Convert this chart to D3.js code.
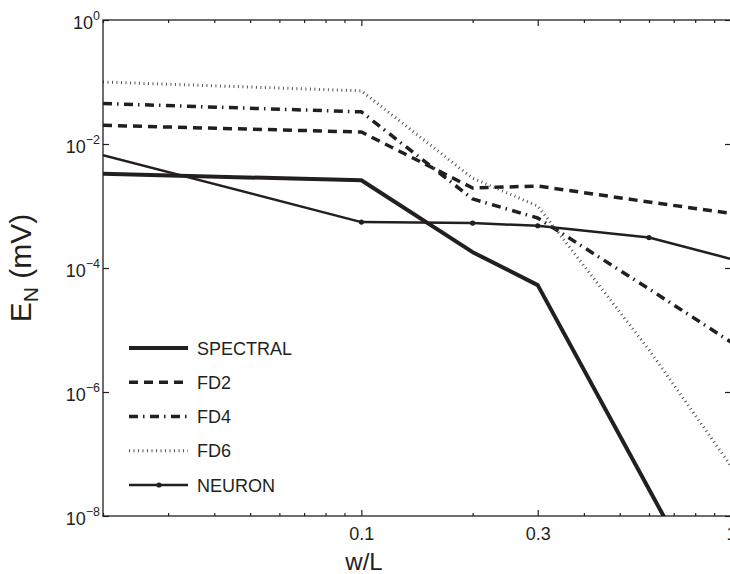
<!DOCTYPE html>
<html>
<head>
<meta charset="utf-8">
<script src="https://cdn.jsdelivr.net/npm/d3@7"></script>
<style>
body { margin: 0; background: #fff; }
.chart text { font-family: Arial, "Liberation Sans", Helvetica, sans-serif; fill: #231f20; }
</style>
</head>
<body>
<div class="chart"></div>
<script>
// w/L values shared by every series
var wL = [0.02, 0.1, 0.2, 0.3, 0.6, 1.0]
var spectral = [3.3e-3, 2.6e-3, 1.8e-4, 5.3e-5, 2.7e-8, 1.0e-10]
var fd2 = [2.0e-2, 1.56e-2, 1.95e-3, 2.1e-3, 1.16e-3, 7.6e-4]
var fd4 = [4.5e-2, 3.3e-2, 1.3e-3, 6.4e-4, 4.6e-5, 6.4e-6]
var fd6 = [1.0e-1, 7.2e-2, 2.8e-3, 1.0e-3, 4.8e-6, 6.4e-8]
var neuron = [6.6e-3, 5.5e-4, 5.3e-4, 4.8e-4, 3.1e-4, 1.4e-4]
var seriesNames = ['SPECTRAL', 'FD2', 'FD4', 'FD6', 'NEURON']
var xTickLabels = [0.1, 0.3, 1]
var xMinorTicks = [0.02, 0.03, 0.04, 0.05, 0.06, 0.07, 0.08, 0.09, 0.2, 0.4, 0.5, 0.6, 0.7, 0.8, 0.9]
var yTickExps = [0, -2, -4, -6, -8]

var margin = { top: 20, right: -1, bottom: 58, left: 103 }
var width = 730 - margin.left - margin.right
var height = 574 - margin.top - margin.bottom
var ink = '#231f20'

var svg = d3.select('.chart').append('svg')
    .attr('width', 730)
    .attr('height', 574)
    .style('display', 'block')
    .append('g')
    .attr('transform', 'translate(' + margin.left + ',' + margin.top + ')')

var xScale = d3.scaleLog().domain([0.02, 1]).range([0, width])
var yScale = d3.scaleLog().domain([1e-8, 1]).range([height, 0])

// line styles, one per series
var styles = {
    SPECTRAL: { data: spectral, w: 4, dash: null, color: ink },
    FD2: { data: fd2, w: 3.5, dash: '9,6', color: ink },
    FD4: { data: fd4, w: 3.5, dash: '9,5,1.5,5.5', color: ink },
    FD6: { data: fd6, w: 3, dash: '1,3.5', color: '#555' },
    NEURON: { data: neuron, w: 2.5, dash: null, color: ink }
}

svg.append('clipPath').attr('id', 'plot-clip')
    .append('rect').attr('width', width).attr('height', height)

var line = d3.line()
    .x(function(d) { return xScale(d[0]) })
    .y(function(d) { return yScale(d[1]) })

var plot = svg.append('g').attr('clip-path', 'url(#plot-clip)')

seriesNames.forEach(function(name) {
    var s = styles[name]
    var pts = wL.map(function(x, i) { return [x, s.data[i]] })
    plot.append('path')
        .datum(pts)
        .attr('d', line)
        .attr('fill', 'none')
        .attr('stroke', s.color)
        .attr('stroke-width', s.w)
        .attr('stroke-dasharray', s.dash)
        .attr('stroke-linejoin', 'round')
    if (name === 'NEURON') {
        plot.selectAll('circle.nrn')
            .data(pts.slice(1, pts.length - 1))
            .enter()
            .append('circle')
            .attr('class', 'nrn')
            .attr('cx', function(d) { return xScale(d[0]) })
            .attr('cy', function(d) { return yScale(d[1]) })
            .attr('r', 2.6)
            .attr('fill', ink)
    }
})

// axes box
svg.append('rect')
    .attr('width', width)
    .attr('height', height)
    .attr('fill', 'none')
    .attr('stroke', ink)
    .attr('stroke-width', 1.3)

function styleAxis(g) {
    g.select('.domain').remove()
    g.selectAll('line').attr('stroke', ink).attr('stroke-width', 1.2)
}

// x axis, bottom and top
svg.append('g')
    .attr('transform', 'translate(0,' + height + ')')
    .call(d3.axisBottom(xScale).tickValues(xMinorTicks).tickSize(-3).tickFormat(''))
    .call(styleAxis)
svg.append('g')
    .attr('transform', 'translate(0,' + height + ')')
    .call(d3.axisBottom(xScale).tickValues(xTickLabels).tickSize(-6).tickPadding(11)
        .tickFormat(function(d) { return d3.format('~g')(d) }))
    .call(styleAxis)
    .selectAll('text')
    .attr('font-size', 18)
    .attr('font-family', 'Arial, "Liberation Sans", sans-serif')
    .attr('fill', ink)
svg.append('g')
    .call(d3.axisTop(xScale).tickValues(xMinorTicks).tickSize(-3).tickFormat(''))
    .call(styleAxis)
svg.append('g')
    .call(d3.axisTop(xScale).tickValues(xTickLabels).tickSize(-6).tickFormat(''))
    .call(styleAxis)

// y axis, left and right
var yTicks = yTickExps.map(function(e) { return Math.pow(10, e) })
svg.append('g')
    .call(d3.axisLeft(yScale).tickValues(yTicks).tickSize(-6).tickFormat(''))
    .call(styleAxis)
svg.append('g')
    .attr('transform', 'translate(' + width + ',0)')
    .call(d3.axisRight(yScale).tickValues(yTicks).tickSize(-6).tickFormat(''))
    .call(styleAxis)

var yLab = svg.selectAll('text.ylab')
    .data(yTickExps)
    .enter()
    .append('text')
    .attr('class', 'ylab')
    .attr('x', -3)
    .attr('y', function(d) { return yScale(Math.pow(10, d)) + 8.5 })
    .attr('text-anchor', 'end')
    .attr('font-size', 18)
yLab.append('tspan').text('10')
yLab.append('tspan')
    .attr('font-size', 12.5)
    .attr('dy', -9)
    .text(function(d) { return d === 0 ? '0' : '\u2212' + Math.abs(d) })

// axis titles
var yTitle = svg.append('text')
    .attr('transform', 'translate(' + (31 - margin.left) + ',' + 248 + ') rotate(-90)')
    .attr('text-anchor', 'middle')
    .attr('font-size', 30)
yTitle.append('tspan').text('E')
yTitle.append('tspan').attr('font-size', 21).attr('dy', 7).text('N')
yTitle.append('tspan').attr('dy', -7).text(' (mV)')

svg.append('text')
    .attr('x', 364 - margin.left)
    .attr('y', 570 - margin.top)
    .attr('text-anchor', 'middle')
    .attr('font-size', 24)
    .text('w/L')

// legend
var legendY = d3.scalePoint().domain(seriesNames).range([348, 485].map(function(v) { return v - margin.top }))
var legend = svg.selectAll('g.legend')
    .data(seriesNames)
    .enter()
    .append('g')
    .attr('class', 'legend')
    .attr('transform', function(d) { return 'translate(0,' + legendY(d) + ')' })
legend.append('line')
    .attr('x1', 129 - margin.left)
    .attr('x2', 188 - margin.left)
    .attr('stroke', function(d) { return styles[d].color })
    .attr('stroke-width', function(d) { return styles[d].w })
    .attr('stroke-dasharray', function(d) { return styles[d].dash })
legend.filter(function(d) { return d === 'NEURON' })
    .append('circle')
    .attr('cx', 159 - margin.left)
    .attr('r', 2.6)
    .attr('fill', ink)
legend.append('text')
    .attr('x', 197 - margin.left)
    .attr('y', 6.5)
    .attr('font-size', 18)
    .text(function(d) { return d })
</script>
</body>
</html>
